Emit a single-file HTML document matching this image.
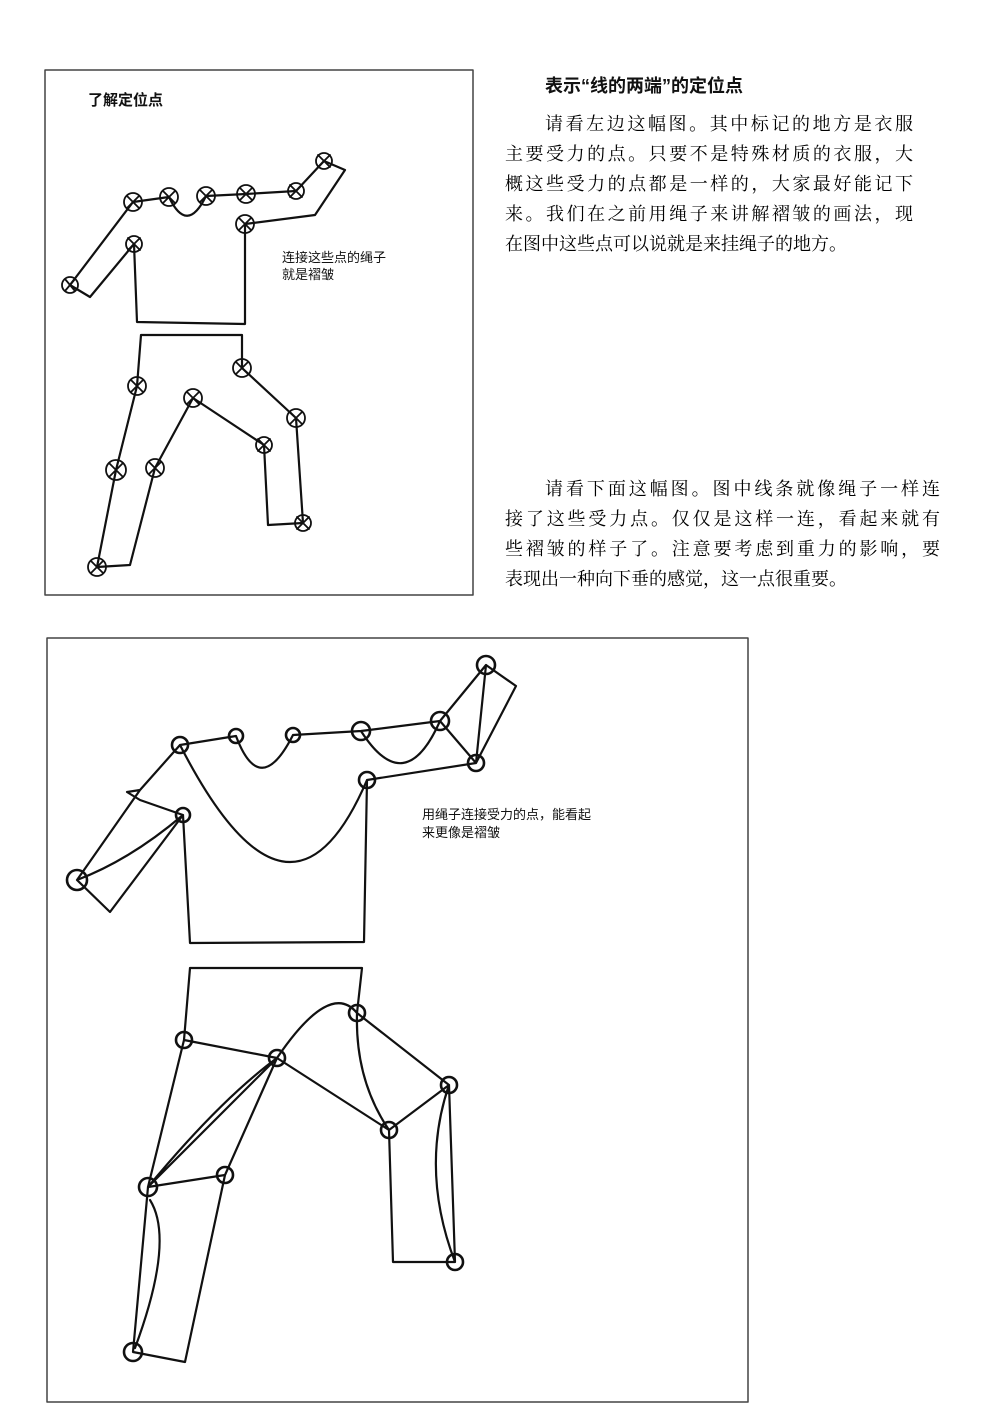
<!DOCTYPE html>
<html><head><meta charset="utf-8">
<style>
html,body{margin:0;padding:0;background:#fff;}
body{width:1000px;height:1418px;position:relative;overflow:hidden;font-family:"Liberation Sans","Noto Sans CJK SC",sans-serif;color:#111;}
.t{position:absolute;white-space:nowrap;}
.ln{position:absolute;left:505px;width:408px;font-size:18px;text-align:justify;text-align-last:justify;white-space:nowrap;font-family:"Liberation Serif","Noto Serif CJK SC",serif;color:#000;}
svg{position:absolute;left:0;top:0;}
</style></head><body>
<svg width="1000" height="1418" viewBox="0 0 1000 1418" fill="none" stroke="#111" stroke-width="2.2" stroke-linecap="round" stroke-linejoin="round">
<rect x="45" y="70" width="428" height="525" stroke="#444" stroke-width="1.5"/>
<rect x="47" y="638" width="701" height="764" stroke="#444" stroke-width="1.5"/>
<!-- top figure shirt -->
<path d="M70,285 L133,202 L169,197"/>
<path d="M169,197 Q187,235 206,196 L246,194 L296,191 L324,161 L345,170 L315,215 L245,224"/>
<path d="M70,285 L90,297 L134,244 L137,322 L245,324 L245,224"/>
<!-- top figure pants -->
<path d="M141,335 L242,335 L242,368 L296,418 L303,523 L268,525 L264,445 L193,398 L155,468 L130,565 L97,567 L116,470 L137,386 L141,335"/>
<g stroke-width="1.8">
<circle cx="133" cy="202" r="9"/><path d="M127,196 L139,208 M139,196 L127,208"/>
<circle cx="169" cy="197" r="9"/><path d="M163,191 L175,203 M175,191 L163,203"/>
<circle cx="206" cy="196" r="9"/><path d="M200,190 L212,202 M212,190 L200,202"/>
<circle cx="246" cy="194" r="9"/><path d="M240,188 L252,200 M252,188 L240,200"/>
<circle cx="296" cy="191" r="8"/><path d="M290,185 L302,197 M302,185 L290,197"/>
<circle cx="324" cy="161" r="8"/><path d="M318,155 L330,167 M330,155 L318,167"/>
<circle cx="245" cy="224" r="9"/><path d="M239,218 L251,230 M251,218 L239,230"/>
<circle cx="134" cy="244" r="8"/><path d="M128,238 L140,250 M140,238 L128,250"/>
<circle cx="70" cy="285" r="8"/><path d="M65,279 L75,291 M75,279 L65,291"/>
<circle cx="137" cy="386" r="9"/><path d="M131,380 L143,392 M143,380 L131,392"/>
<circle cx="242" cy="368" r="9"/><path d="M236,362 L248,374 M248,362 L236,374"/>
<circle cx="193" cy="398" r="9"/><path d="M187,392 L199,404 M199,392 L187,404"/>
<circle cx="296" cy="418" r="9"/><path d="M290,412 L302,424 M302,412 L290,424"/>
<circle cx="264" cy="445" r="8"/><path d="M258,439 L270,451 M270,439 L258,451"/>
<circle cx="116" cy="470" r="10"/><path d="M109,463 L123,477 M123,463 L109,477"/>
<circle cx="155" cy="468" r="9"/><path d="M149,462 L161,474 M161,462 L149,474"/>
<circle cx="303" cy="523" r="8"/><path d="M297,517 L309,529 M309,517 L297,529"/>
<circle cx="97" cy="567" r="9"/><path d="M91,561 L103,573 M103,561 L91,573"/>
</g>
<!-- bottom figure shirt -->
<path d="M180,745 L236,736 Q260,800 293,735 L361,731 L440,721 M361,731 Q405,800 440,721 L486,665 L516,686 L476,763 M440,721 L476,763 L367,780 L364,942 L190,943 L183,815 M367,780 Q290,960 180,745 L140,790 L127,792 L140,800 L183,815 M140,790 L77,880 L110,912 L183,815 M77,880 Q130,860 183,815 M486,665 L476,763"/>
<!-- bottom pants -->
<path d="M190,968 L362,968 L357,1013 M190,968 L184,1040 L277,1058 Q330,980 357,1013 L449,1085 L389,1130 L277,1058 M357,1013 Q355,1080 389,1130 M449,1085 L455,1262 Q420,1170 449,1085 M389,1130 L393,1262 L455,1262 M184,1040 L148,1187 L277,1058 L225,1175 L148,1187 M148,1187 Q220,1100 277,1058 M225,1175 L185,1362 L133,1352 L148,1187 M150,1200 Q175,1240 135,1348"/>
<g stroke-width="2.6">
<circle cx="180" cy="745" r="8"/><circle cx="236" cy="736" r="7"/><circle cx="293" cy="735" r="7"/><circle cx="361" cy="731" r="9"/><circle cx="440" cy="721" r="9"/><circle cx="486" cy="665" r="9"/><circle cx="476" cy="763" r="8"/><circle cx="367" cy="780" r="8"/><circle cx="183" cy="815" r="7"/><circle cx="77" cy="880" r="10"/>
<circle cx="184" cy="1040" r="8"/><circle cx="277" cy="1058" r="8"/><circle cx="357" cy="1013" r="8"/><circle cx="449" cy="1085" r="8"/><circle cx="389" cy="1130" r="8"/><circle cx="225" cy="1175" r="8"/><circle cx="148" cy="1187" r="9"/><circle cx="133" cy="1352" r="9"/><circle cx="455" cy="1262" r="8"/>
</g>
</svg>
<div class="t" style="left:88px;top:89px;font-size:15px;font-weight:bold;">了解定位点</div>
<div class="t" style="left:282px;top:249px;font-size:13px;line-height:17px;">连接这些点的绳子<br>就是褶皱</div>
<div class="t" style="left:422px;top:806px;font-size:13px;line-height:18px;">用绳子连接受力的点，能看起<br>来更像是褶皱</div>
<div class="t" style="left:545px;top:72px;font-size:18px;font-weight:bold;">表示“线的两端”的定位点</div>
<div class="ln" style="top:110px;left:545px;width:368px;">请看左边这幅图。其中标记的地方是衣服</div>
<div class="ln" style="top:140px;">主要受力的点。只要不是特殊材质的衣服，大</div>
<div class="ln" style="top:170px;">概这些受力的点都是一样的，大家最好能记下</div>
<div class="ln" style="top:200px;">来。我们在之前用绳子来讲解褶皱的画法，现</div>
<div class="ln" style="top:230px;text-align-last:left;width:auto;">在图中这些点可以说就是来挂绳子的地方。</div>
<div class="ln" style="top:475px;left:545px;width:395px;">请看下面这幅图。图中线条就像绳子一样连</div>
<div class="ln" style="top:505px;width:435px;">接了这些受力点。仅仅是这样一连，看起来就有</div>
<div class="ln" style="top:535px;width:435px;">些褶皱的样子了。注意要考虑到重力的影响，要</div>
<div class="ln" style="top:565px;text-align-last:left;width:auto;">表现出一种向下垂的感觉，这一点很重要。</div>
</body></html>
